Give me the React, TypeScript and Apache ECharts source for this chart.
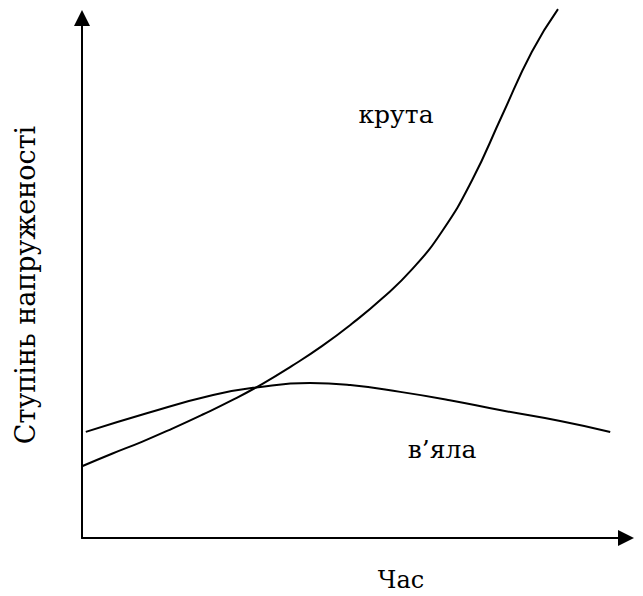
import React, { useEffect, useRef } from "react";
import * as echarts from "echarts";

// Steep curve ("крута") points: [time, intensity]
const steepX = [0, 5.5, 11.0, 16.5, 22.1, 27.6, 33.1, 38.6, 44.1, 49.6, 55.1, 60.7, 66.2, 71.7, 77.2, 82.7, 87.5];
const steepY = [13.8, 16.2, 18.5, 21.0, 23.7, 26.5, 29.6, 33.1, 36.9, 41.2, 46.0, 51.7, 59.0, 68.8, 81.2, 93.5, 101.7];
// Flat curve ("в’яла")
const flatX = [0.7, 11.9, 24.1, 32.4, 41.9, 49.3, 58.5, 67.6, 76.8, 87.9, 97.1];
const flatY = [20.4, 24.0, 27.5, 29.0, 29.8, 29.4, 28.1, 26.5, 24.6, 22.5, 20.4];

const xName = "Час";
const yName = "Ступінь напруженості";
const steepLabel = "крута";
const flatLabel = "в’яла";

const FONT = "DejaVu Serif";

export default function App() {
  const ref = useRef<HTMLDivElement>(null);
  useEffect(() => {
    if (!ref.current) return;
    const chart = echarts.init(ref.current, undefined, { renderer: "svg" });
    const lineStyle = { color: "#000", width: 2 };
    const txt = (text: string, size: number) => ({
      text,
      fontFamily: FONT,
      fontSize: size,
      fill: "#000",
      align: "center",
      verticalAlign: "middle",
    });
    chart.setOption({
      animation: false,
      backgroundColor: "#fff",
      grid: { left: 82, right: 17, top: 18, bottom: 58 },
      xAxis: {
        type: "value",
        min: 0,
        max: 100,
        axisLine: {
          show: true,
          lineStyle,
          symbol: ["none", "triangle"],
          symbolSize: [16, 16],
        },
        axisTick: { show: false },
        axisLabel: { show: false },
        splitLine: { show: false },
      },
      yAxis: {
        type: "value",
        min: 0,
        max: 100,
        axisLine: {
          show: true,
          lineStyle,
          symbol: ["none", "triangle"],
          symbolSize: [16, 16],
        },
        axisTick: { show: false },
        axisLabel: { show: false },
        splitLine: { show: false },
      },
      series: [
        {
          type: "line",
          data: steepX.map((x, i) => [x, steepY[i]]),
          smooth: 0.5,
          showSymbol: false,
          clip: false,
          lineStyle,
        },
        {
          type: "line",
          data: flatX.map((x, i) => [x, flatY[i]]),
          smooth: 0.5,
          showSymbol: false,
          clip: false,
          lineStyle,
        },
      ],
      graphic: [
        { type: "text", x: 396, y: 114, style: txt(steepLabel, 25) },
        { type: "text", x: 442, y: 449, style: txt(flatLabel, 25) },
        { type: "text", x: 401, y: 580, style: txt(xName, 24) },
        { type: "text", x: 25, y: 285, rotation: Math.PI / 2, style: txt(yName, 27) },
      ],
    });
    return () => chart.dispose();
  }, []);
  return (
    <div
      ref={ref}
      style={{ position: "absolute", left: 0, top: 0, width: 643, height: 596, background: "#fff" }}
    />
  );
}
